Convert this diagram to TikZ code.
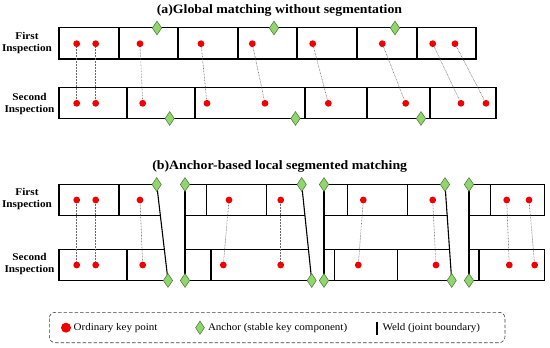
\documentclass[tikz,border=0pt]{standalone}
\usepackage{fontspec}
\setmainfont[FakeStretch=1.08]{Liberation Serif}
\usetikzlibrary{shapes.geometric}
\definecolor{kpred}{RGB}{240,0,0}
\definecolor{anchorgreen}{RGB}{146,212,110}
\definecolor{anchoredge}{RGB}{70,120,50}
\definecolor{linkgray}{RGB}{105,105,105}
\tikzset{
  kp/.style={circle, fill=kpred, inner sep=0pt, minimum size=6.8pt},
  anc/.style={diamond, draw=anchoredge, fill=anchorgreen, inner sep=0pt, minimum width=9.5pt, minimum height=14pt, line width=0.5pt},
  link/.style={dash pattern=on 0.7pt off 0.8pt, draw=linkgray, line width=0.55pt},
  boxline/.style={line width=1.1pt, line cap=rect},
  lbl/.style={font=\bfseries\fontsize{10.4}{12}\selectfont, align=center, inner sep=0pt},
  ttl/.style={font=\bfseries\fontsize{12.8}{15}\selectfont, inner sep=0pt},
  legtext/.style={font=\fontsize{10.2}{11}\selectfont, anchor=west, inner sep=0pt}
}
\begin{document}
\begin{tikzpicture}[x=1pt,y=-1pt]
\useasboundingbox (0,0) rectangle (550,348);
% ---------- (a) ----------
\node[ttl] (ta) at (279.5,10.5) {(a)Global matching without segmentation};
\node[lbl] (la1) at (27,43) {First\\Inspection};
\node[lbl] (la2) at (29.5,104) {Second\\Inspection};
\draw[boxline] (59,27.7) rectangle (476,59);
\foreach \x in {119,178,238,297,357,417} \draw[boxline] (\x,27.7) -- (\x,59);
\draw[boxline] (59,87.7) rectangle (496,118.3);
\foreach \x in {127,195,305,367,430} \draw[boxline] (\x,87.7) -- (\x,118.3);
\foreach [count=\i] \x in {76.7,95.7,140,201,252.3,312.7,382.3,432.7,455}
  \node[kp] (a1-\i) at (\x,43.7) {};
\foreach [count=\i] \x in {76.7,95.7,142.7,207,265,328.3,405.7,461,486}
  \node[kp] (a2-\i) at (\x,103.3) {};
\foreach \i in {1,...,9} \draw[link] (a1-\i) -- (a2-\i);
\foreach [count=\i] \x in {157,274,395} \node[anc] (aa1-\i) at (\x,28) {};
\foreach [count=\i] \x in {169.7,295.5,421} \node[anc] (aa2-\i) at (\x,118.5) {};
% ---------- (b) ----------
\node[ttl] (tb) at (279.7,166.7) {(b)Anchor-based local segmented matching};
\node[lbl] (lb1) at (27,199) {First\\Inspection};
\node[lbl] (lb2) at (29.5,264) {Second\\Inspection};
% segment 1
\draw[boxline] (160.35,215.5) -- (59,215.5) -- (59,184.5) -- (156.7,184.5);
\draw[boxline] (164.35,249.5) -- (59,249.5) -- (59,280.5) -- (168,280.5);
\draw[boxline] (119,184.5) -- (119,215.5);
\draw[boxline] (127,249.5) -- (127,280.5);
% segment 2
\draw[boxline] (185,184.5) -- (301.7,184.5);
\draw[boxline] (185,215.5) -- (304.93,215.5);
\draw[boxline] (185,249.5) -- (308.47,249.5);
\draw[boxline] (185,280.5) -- (311.7,280.5);
\foreach \x in {206.7,266.7} \draw[boxline] (\x,184.5) -- (\x,215.5);
\draw[boxline] (211,249.5) -- (211,280.5);
% segment 3
\draw[boxline] (324,184.5) -- (445,184.5);
\draw[boxline] (324,215.5) -- (447.16,215.5);
\draw[boxline] (324,249.5) -- (449.54,249.5);
\draw[boxline] (324,280.5) -- (451.7,280.5);
\foreach \x in {347.3,407.7} \draw[boxline] (\x,184.5) -- (\x,215.5);
\foreach \x in {334.3,397.7} \draw[boxline] (\x,249.5) -- (\x,280.5);
% segment 4
\draw[boxline] (469,184.5) rectangle (544.3,215.5);
\draw[boxline] (469,249.5) rectangle (544.3,280.5);
\draw[boxline] (490.7,184.5) -- (490.7,215.5);
\draw[boxline] (479,249.5) -- (479,280.5);
% anchors (positions) and segment boundaries
\coordinate (s1t) at (156.7,184.5); \coordinate (s1b) at (168,280.5);
\coordinate (s2lt) at (185,184.5); \coordinate (s2lb) at (185,280.5);
\coordinate (s2rt) at (301.7,184.5); \coordinate (s2rb) at (311.7,280.5);
\coordinate (s3lt) at (324,184.5); \coordinate (s3lb) at (324,280.5);
\coordinate (s3rt) at (445,184.5); \coordinate (s3rb) at (451.7,280.5);
\coordinate (s4lt) at (469,184.5); \coordinate (s4lb) at (469,280.5);
\foreach \p/\q in {s1t/s1b,s2lt/s2lb,s2rt/s2rb,s3lt/s3lb,s3rt/s3rb,s4lt/s4lb}
  \draw[boxline] (\p) -- (\q);
% key points
\foreach [count=\i] \x in {76.7,95.7,140,229,280.7,363.3,432.7,506.7,529}
  \node[kp] (b1-\i) at (\x,200) {};
\foreach [count=\i] \x in {76.7,95.7,142.7,223.3,280.7,358.3,436,509.3,534.7}
  \node[kp] (b2-\i) at (\x,265) {};
\foreach \i in {1,...,9} \draw[link] (b1-\i) -- (b2-\i);
\foreach \p in {s1t,s1b,s2lt,s2lb,s2rt,s2rb,s3lt,s3lb,s3rt,s3rb,s4lt,s4lb}
  \node[anc] (anc-\p) at (\p) {};
% ---------- legend ----------
\draw[dashed, dash pattern=on 3.5pt off 2pt, line width=0.6pt, draw=black!75, rounded corners=6pt]
  (49.3,312.3) rectangle (505,342.7);
\node[kp, minimum size=10pt] (lgkp) at (66,327.7) {};
\node[legtext] (lgkpt) at (73.5,327.7) {Ordinary key point};
\node[anc, minimum width=9pt, minimum height=13.5pt] (lganc) at (200,327.7) {};
\node[legtext] (lganct) at (207.8,327.7) {Anchor (stable key component)};
\draw[line width=1.6pt] (376.7,321.5) -- (376.7,335);
\node[legtext] (lgweldt) at (382.3,327.7) {Weld (joint boundary)};
\end{tikzpicture}
\end{document}
